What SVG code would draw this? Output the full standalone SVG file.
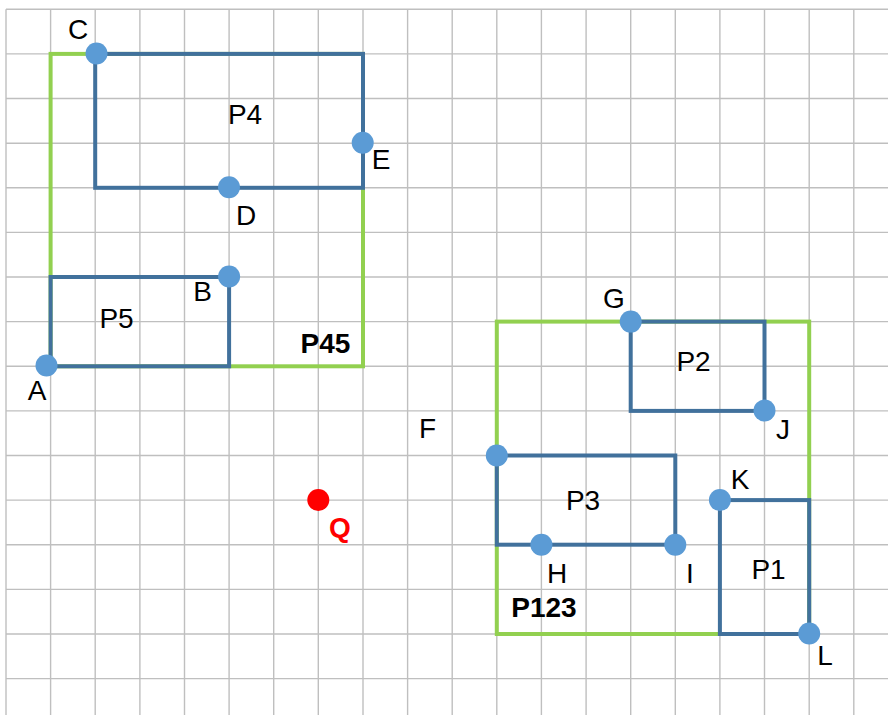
<svg xmlns="http://www.w3.org/2000/svg" width="888" height="715" viewBox="0 0 888 715">
<style>
.grid line{stroke:#bfbfbf;stroke-width:1.4}
.green{fill:none;stroke:#92d050;stroke-width:4}
.blue{fill:none;stroke:#41719c;stroke-width:4}
.pt{fill:#5b9bd5}
.lbl{font-family:"Liberation Sans","Noto Sans",sans-serif;font-size:28px;fill:#000;text-anchor:middle}
.bold{font-weight:bold}
.red{fill:#ff0000}
</style>
<rect width="888" height="715" fill="#ffffff"/>
<g class="grid" id="grid">
<line x1="6" y1="9.3" x2="6" y2="715"/>
<line x1="50.6" y1="9.3" x2="50.6" y2="715"/>
<line x1="95.2" y1="9.3" x2="95.2" y2="715"/>
<line x1="139.9" y1="9.3" x2="139.9" y2="715"/>
<line x1="184.5" y1="9.3" x2="184.5" y2="715"/>
<line x1="229.1" y1="9.3" x2="229.1" y2="715"/>
<line x1="273.7" y1="9.3" x2="273.7" y2="715"/>
<line x1="318.3" y1="9.3" x2="318.3" y2="715"/>
<line x1="363" y1="9.3" x2="363" y2="715"/>
<line x1="407.6" y1="9.3" x2="407.6" y2="715"/>
<line x1="452.2" y1="9.3" x2="452.2" y2="715"/>
<line x1="496.8" y1="9.3" x2="496.8" y2="715"/>
<line x1="541.4" y1="9.3" x2="541.4" y2="715"/>
<line x1="586.1" y1="9.3" x2="586.1" y2="715"/>
<line x1="630.7" y1="9.3" x2="630.7" y2="715"/>
<line x1="675.3" y1="9.3" x2="675.3" y2="715"/>
<line x1="719.9" y1="9.3" x2="719.9" y2="715"/>
<line x1="764.5" y1="9.3" x2="764.5" y2="715"/>
<line x1="809.2" y1="9.3" x2="809.2" y2="715"/>
<line x1="853.8" y1="9.3" x2="853.8" y2="715"/>
<line x1="6" y1="9.3" x2="888" y2="9.3"/>
<line x1="6" y1="53.9" x2="888" y2="53.9"/>
<line x1="6" y1="98.5" x2="888" y2="98.5"/>
<line x1="6" y1="143.2" x2="888" y2="143.2"/>
<line x1="6" y1="187.8" x2="888" y2="187.8"/>
<line x1="6" y1="232.4" x2="888" y2="232.4"/>
<line x1="6" y1="277" x2="888" y2="277"/>
<line x1="6" y1="321.6" x2="888" y2="321.6"/>
<line x1="6" y1="366.3" x2="888" y2="366.3"/>
<line x1="6" y1="410.9" x2="888" y2="410.9"/>
<line x1="6" y1="455.5" x2="888" y2="455.5"/>
<line x1="6" y1="500.1" x2="888" y2="500.1"/>
<line x1="6" y1="544.7" x2="888" y2="544.7"/>
<line x1="6" y1="589.4" x2="888" y2="589.4"/>
<line x1="6" y1="634" x2="888" y2="634"/>
<line x1="6" y1="678.6" x2="888" y2="678.6"/>
</g>
<g id="connectors">
<rect id="P45-outline" class="green" x="50.6" y="53.9" width="312.4" height="312.4"/>
<rect id="P123-outline" class="green" x="496.8" y="321.6" width="312.4" height="312.4"/>
</g>
<g id="P4">
<rect class="blue" x="95.2" y="53.9" width="267.8" height="133.9"/>
<text class="lbl" x="245" y="124">P4</text>
</g>
<g id="P5">
<rect class="blue" x="50.6" y="277" width="178.5" height="89.3"/>
<text class="lbl" x="116.5" y="328">P5</text>
</g>
<g id="P2">
<rect class="blue" x="630.7" y="321.6" width="133.8" height="89.3"/>
<text class="lbl" x="693.5" y="371">P2</text>
</g>
<g id="P3">
<rect class="blue" x="496.8" y="455.5" width="178.5" height="89.2"/>
<text class="lbl" x="583" y="510">P3</text>
</g>
<g id="P1">
<rect class="blue" x="719.9" y="500.1" width="89.3" height="133.9"/>
<text class="lbl" x="768.5" y="579">P1</text>
</g>
<g id="P45">
<text class="lbl bold" x="325.5" y="353">P45</text>
</g>
<g id="P123">
<text class="lbl bold" x="544" y="617">P123</text>
</g>
<g id="A"><circle class="pt" cx="46.5" cy="365.5" r="11"/><text class="lbl" x="37" y="400">A</text></g>
<g id="B"><circle class="pt" cx="229.1" cy="276.5" r="11"/><text class="lbl" x="202.5" y="301">B</text></g>
<g id="C"><circle class="pt" cx="96.5" cy="53.5" r="11"/><text class="lbl" x="78" y="39">C</text></g>
<g id="D"><circle class="pt" cx="229" cy="187.3" r="11"/><text class="lbl" x="246" y="225">D</text></g>
<g id="E"><circle class="pt" cx="362.7" cy="142.7" r="11"/><text class="lbl" x="381" y="169">E</text></g>
<g id="F"><circle class="pt" cx="496.8" cy="455.5" r="11"/><text class="lbl" x="427.5" y="438">F</text></g>
<g id="G"><circle class="pt" cx="630.7" cy="321.6" r="11"/><text class="lbl" x="614" y="308">G</text></g>
<g id="H"><circle class="pt" cx="541.4" cy="544.7" r="11"/><text class="lbl" x="557" y="583">H</text></g>
<g id="I"><circle class="pt" cx="675.3" cy="544.7" r="11"/><text class="lbl" x="690" y="583">I</text></g>
<g id="J"><circle class="pt" cx="764.5" cy="410.5" r="11"/><text class="lbl" x="783" y="439">J</text></g>
<g id="K"><circle class="pt" cx="719.9" cy="500.1" r="11"/><text class="lbl" x="740" y="489">K</text></g>
<g id="L"><circle class="pt" cx="809.2" cy="633.5" r="11"/><text class="lbl" x="825" y="665">L</text></g>
<g id="Q"><circle cx="318.3" cy="500" r="11" fill="#ff0000"/><text class="lbl bold red" x="340" y="537">Q</text></g>
</svg>
